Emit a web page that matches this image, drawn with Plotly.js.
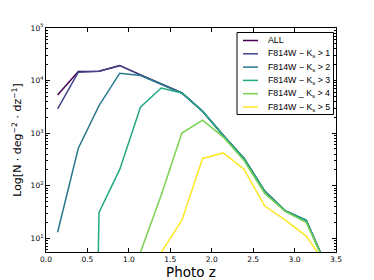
<!DOCTYPE html>
<html>
<head>
<meta charset="utf-8">
<script src="https://cdn.plot.ly/plotly-3.0.1.min.js"></script>
<style>html,body{margin:0;padding:0;background:#fff;}#chart{width:374px;height:280px;}</style>
</head>
<body>
<div id="chart"></div>
<script>
// ---- data ----
const photoZ = [0.14, 0.39, 0.64, 0.89, 1.14, 1.39, 1.64, 1.89, 2.14, 2.39, 2.64, 2.89, 3.14, 3.39];
const nAll = [5300, 14800, 15000, 19400, 12800, 8700, 5800, 2600, 900, 330, 78, 33, 22, 2.8];
const nK1  = [2900, 14400, 15000, 19200, 12800, 8700, 5800, 2600, 900, 330, 78, 33, 22, 2.8];
const nK2  = [13, 515, 3340, 13800, 12500, 8600, 5800, 2600, 900, 330, 78, 33, 22, 2.8];
const nK3  = [null, 0, 31, 204, 3100, 7200, 5800, 2600, 900, 330, 78, 33, 22, 2.8];
const nK4  = [null, null, null, 0, 5.4, 66, 1000, 1770, 840, 300, 71, 32, 20, 2.8];
const nK5  = [null, null, null, null, 0, 5.4, 22, 330, 420, 205, 41, 22, 11, 3];
const seriesNames = ['ALL', 'F814W − K<sub>s</sub> > 1', 'F814W − K<sub>s</sub> > 2', 'F814W − K<sub>s</sub> > 3', 'F814W _ K<sub>s</sub> > 4', 'F814W − K<sub>s</sub> > 5'];
const seriesColors = ['#440154', '#414487', '#2a788e', '#22a884', '#7ad151', '#fde725'];
const yTickVals = [10, 100, 1000, 10000, 100000];
const yTickText = ['10<sup>1</sup>', '10<sup>2</sup>', '10<sup>3</sup>', '10<sup>4</sup>', '10<sup>5</sup>'];

// zero counts cannot sit on a log axis; push them far below the frame (as matplotlib clipping does)
const ZERO_FLOOR = 1e-20;
const fix = arr => arr.map(v => (v === 0 ? ZERO_FLOOR : v));
const allSeries = [nAll, nK1, nK2, nK3, nK4, nK5];

const traces = allSeries.map((s, i) => ({
  x: photoZ, y: fix(s), type: 'scatter', mode: 'lines',
  line: {color: seriesColors[i], width: 1.5},
  name: seriesNames[i], showlegend: false, hoverinfo: 'skip'
}));

const minorVals = [];
for (let e = 0; e < 5; e++) for (let m = 2; m <= 9; m++) minorVals.push(m * Math.pow(10, e));

// layout geometry
const W = 374, H = 280, M = {l: 46, r: 38, t: 28, b: 28};
const pw = W - M.l - M.r, ph = H - M.t - M.b;
const px2x = p => (p - M.l) / pw;
const px2y = p => (H - M.b - p) / ph;

// manual legend (compact like matplotlib)
const shapes = [];
const annotations = [];
const legL = 237, legT = 32.5, legR = 333.5, legB = 114.5;
shapes.push({type: 'rect', xref: 'paper', yref: 'paper', x0: px2x(legL), x1: px2x(legR), y0: px2y(legB), y1: px2y(legT),
  line: {color: '#000', width: 1}, fillcolor: '#fff', layer: 'above'});
seriesNames.forEach((nm, i) => {
  const yy = 40.5 + i * 13.3;
  shapes.push({type: 'line', xref: 'paper', yref: 'paper', x0: px2x(243), x1: px2x(258), y0: px2y(yy), y1: px2y(yy),
    line: {color: seriesColors[i], width: 1.5}, layer: 'above'});
  annotations.push({xref: 'paper', yref: 'paper', x: px2x(266), y: px2y(yy), xanchor: 'left', yanchor: 'middle',
    text: nm, showarrow: false, font: {family: 'Liberation Sans, Arial, sans-serif', size: 8.8, color: '#000'}});
});

const layout = {
  width: W, height: H, margin: M,
  paper_bgcolor: '#fff', plot_bgcolor: '#fff',
  showlegend: false,
  font: {family: 'DejaVu Sans, sans-serif', color: '#000'},
  xaxis: {
    range: [0, 3.5], dtick: 0.5, tick0: 0, tickformat: '.1f',
    ticks: 'inside', ticklen: 4, tickwidth: 1, tickcolor: '#000',
    showline: true, linecolor: '#000', linewidth: 1, mirror: 'allticks',
    showgrid: false, zeroline: false,
    tickfont: {family: 'DejaVu Sans, sans-serif', size: 7.5, color: '#000'},
    title: {text: 'Photo z', font: {family: 'DejaVu Sans, sans-serif', size: 13.5, color: '#000'}, standoff: 4}
  },
  yaxis: {
    type: 'log', range: [Math.log10(5.47), 5],
    tickvals: yTickVals, ticktext: yTickText,
    ticks: 'inside', ticklen: 4, tickwidth: 1, tickcolor: '#000',
    minor: {tickvals: minorVals, ticks: 'inside', ticklen: 2, tickwidth: 1, tickcolor: '#000', showgrid: false},
    showline: true, linecolor: '#000', linewidth: 1, mirror: 'allticks',
    showgrid: false, zeroline: false,
    tickfont: {family: 'DejaVu Sans, sans-serif', size: 7.5, color: '#000'},
    title: {text: 'Log[N · deg<sup>−2</sup> · dz<sup>−1</sup>]', font: {family: 'DejaVu Sans, sans-serif', size: 11, color: '#000'}, standoff: 6}
  },
  shapes: shapes,
  annotations: annotations
};

Plotly.newPlot('chart', traces, layout, {staticPlot: true, displayModeBar: false});
</script>
</body>
</html>
